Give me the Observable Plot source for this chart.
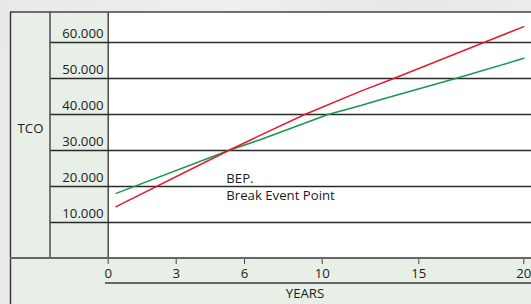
<!DOCTYPE html>
<html>
<head>
<meta charset="utf-8">
<script src="https://cdn.jsdelivr.net/npm/d3@7"></script>
<script src="https://cdn.jsdelivr.net/npm/@observablehq/plot@0.6"></script>
<style>
  html, body { margin: 0; padding: 0; }
  body { width: 531px; height: 304px; overflow: hidden;
         background: linear-gradient(100deg, #e9e9e9 0%, #efefef 40%, #e8e8e8 70%, #eeeeee 100%); }
  #chart svg { display: block; }
</style>
</head>
<body>
<div id="chart"></div>
<script>
// ---- data ----
const yearTicks = [0, 3, 6, 10, 15, 20];
const tcoTicks = [10000, 20000, 30000, 40000, 50000, 60000];

const redYears = [0.35, 5.3, 6.8, 9.1, 12, 13.7, 18.1, 20];
const redTCO   = [14400, 30000, 34200, 40000, 46500, 50000, 60000, 64400];

const greenYears = [0.35, 5.3, 6.8, 10.3, 12, 13, 16.75, 20];
const greenTCO   = [18100, 30000, 33000, 40000, 42500, 44100, 50000, 55600];

const bepLabels = ["BEP.", "Break Event Point"];
const bepYears  = [5.2, 5.2];
const bepTCO    = [22200, 17300];

const yLabel = "TCO";
const xLabel = "YEARS";

// ---- tables ----
const red = redYears.map((x, i) => ({x, y: redTCO[i]}));
const green = greenYears.map((x, i) => ({x, y: greenTCO[i]}));
const bep = bepLabels.map((t, i) => ({t, x: bepYears[i], y: bepTCO[i]}));

const fmt = d => d3.format(",")(d).replace(/,/g, ".");
const FONT = "'Open Sans', sans-serif";
const FS = 13.2;

const chart = Plot.plot({
  width: 531,
  height: 304,
  marginLeft: 108,
  marginRight: 0,
  marginTop: 12,
  marginBottom: 46,
  style: { background: "transparent", fontFamily: FONT, fontSize: FS + "px", color: "#1a1a1a", overflow: "visible" },
  x: { type: "linear", domain: yearTicks, range: [107.7, 175.7, 244, 321.7, 418.3, 523.3] },
  y: { domain: [0, 68333] },
  marks: [
    Plot.frame({ fill: "white", stroke: null }),
    Plot.gridY(tcoTicks, { stroke: "#2a2a2a", strokeOpacity: 1, strokeWidth: 1.4, insetLeft: -58 }),
    Plot.ruleX([0], { stroke: "#222", strokeWidth: 1.2 }),
    Plot.axisY(tcoTicks, { tickSize: 0, tickPadding: 5, dy: -9, tickFormat: fmt, label: null, fill: "#1a1a1a", fontSize: FS }),
    Plot.axisX(yearTicks, { tickSize: 6, tickPadding: 4, stroke: "#444", label: null, fill: "#1a1a1a", fontSize: FS, tickFormat: d => String(d) }),
    Plot.line(green, { x: "x", y: "y", stroke: "#17994a", strokeWidth: 1.5 }),
    Plot.line(red, { x: "x", y: "y", stroke: "#e8182c", strokeWidth: 1.5 }),
    Plot.text(bep, { x: "x", y: "y", text: "t", textAnchor: "start", fill: "#1a1a1a", fontSize: FS }),
    Plot.text([yLabel], { text: d => d, frameAnchor: "left", dx: -78, dy: -7, textAnchor: "middle", fill: "#1a1a1a", fontSize: FS }),
    Plot.text([xLabel], { text: d => d, frameAnchor: "bottom", dx: -15, dy: 39, textAnchor: "middle", fill: "#1a1a1a", fontSize: FS })
  ]
});

document.getElementById("chart").appendChild(chart);

// decorative panel backgrounds and frame lines
const svg = d3.select(chart);
const bg = svg.insert("g", ":first-child");
bg.append("rect").attr("x", 10).attr("y", 12).attr("width", 521).attr("height", 292).attr("fill", "#e8efe6");

const fg = svg.append("g").attr("fill", "none");
const line = (x1, y1, x2, y2, stroke, w) =>
  fg.append("line").attr("x1", x1).attr("y1", y1).attr("x2", x2).attr("y2", y2)
    .attr("stroke", stroke).attr("stroke-width", w);
line(10, 12, 531, 12, "#444", 1.6);
line(10.5, 12, 10.5, 304, "#333", 1.4);
line(50, 12, 50, 258, "#555", 1.6);
line(10, 258, 531, 258, "#666", 2);
line(105, 283, 531, 283, "#666", 2);
</script>
</body>
</html>
